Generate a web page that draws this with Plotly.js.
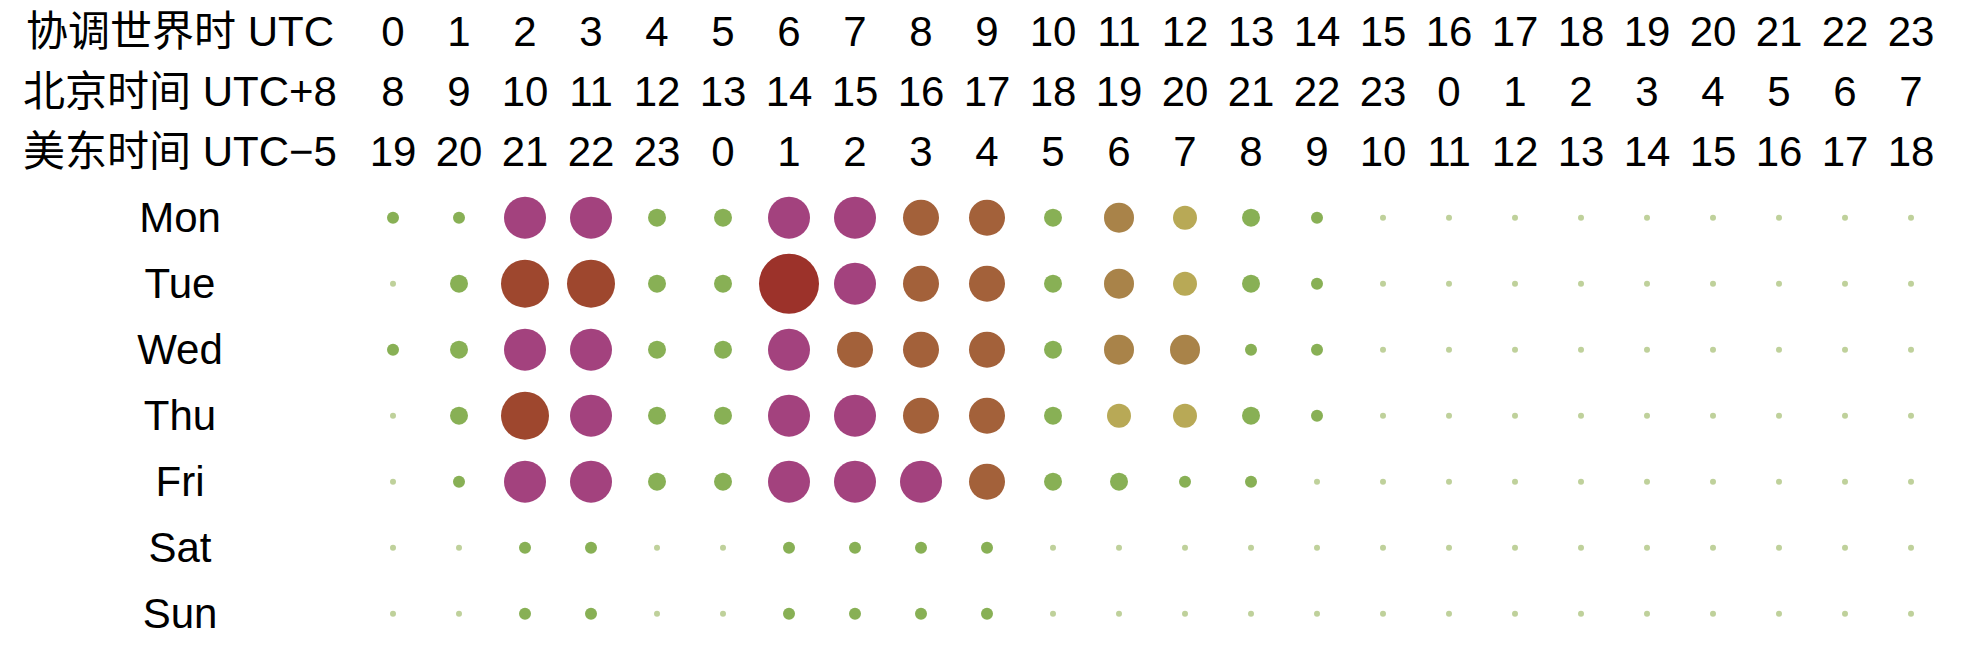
<!DOCTYPE html>
<html>
<head>
<meta charset="utf-8">
<script src="https://cdn.plot.ly/plotly-3.0.1.min.js"></script>
<style>
  html, body { margin: 0; padding: 0; background: #ffffff; overflow: hidden; }
  #chart { width: 1988px; height: 661px; }
</style>
</head>
<body>
<div id="chart"></div>
<script>
// ---------------- data ----------------
const hoursUTC = [0,1,2,3,4,5,6,7,8,9,10,11,12,13,14,15,16,17,18,19,20,21,22,23];
const rowTitles = ["协调世界时 UTC", "北京时间 UTC+8", "美东时间 UTC\u22125"];
const labelsUTC = ["0","1","2","3","4","5","6","7","8","9","10","11","12","13","14","15","16","17","18","19","20","21","22","23"];
const labelsBeijing = ["8","9","10","11","12","13","14","15","16","17","18","19","20","21","22","23","0","1","2","3","4","5","6","7"];
const labelsEastern = ["19","20","21","22","23","0","1","2","3","4","5","6","7","8","9","10","11","12","13","14","15","16","17","18"];
const days = ["Mon","Tue","Wed","Thu","Fri","Sat","Sun"];

// activity level per hour (UTC), one array per weekday
const mon = [2,2,7,7,3,3,7,7,6,6,3,5,4,3,2,1,1,1,1,1,1,1,1,1];
const tue = [1,3,8,8,3,3,10,7,6,6,3,5,4,3,2,1,1,1,1,1,1,1,1,1];
const wed = [2,3,7,7,3,3,7,6,6,6,3,5,5,2,2,1,1,1,1,1,1,1,1,1];
const thu = [1,3,8,7,3,3,7,7,6,6,3,4,4,3,2,1,1,1,1,1,1,1,1,1];
const fri = [1,2,7,7,3,3,7,7,7,6,3,3,2,2,1,1,1,1,1,1,1,1,1,1];
const sat = [1,1,2,2,1,1,2,2,2,2,1,1,1,1,1,1,1,1,1,1,1,1,1,1];
const sun = [1,1,2,2,1,1,2,2,2,2,1,1,1,1,1,1,1,1,1,1,1,1,1,1];
const levels = [mon, tue, wed, thu, fri, sat, sun];

// ---------------- styles ----------------
const levelColors = {
  1: "#bfd19b",
  2: "#88b055",
  3: "#88b055",
  4: "#b8a956",
  5: "#a98349",
  6: "#a3613a",
  7: "#a3427e",
  8: "#9e472e",
  9: "#9d3a2b",
  10: "#9c322a"
};
const pxPerLevel = 6;
const FONT = '"Liberation Sans", Arial, "Noto Sans CJK SC", sans-serif';
const FS = 42;

const W = 1988, H = 661;
const unitPx = 66;            // px per hour column and per day row
const firstColPx = 393;       // pixel x of hour 0
const firstRowPx = 217.7;     // pixel y of Mon
const labelCenterPx = 180;    // pixel x of left labels
const headerRowPx = [31, 91, 151];
const textShiftPx = 4;        // optical correction for text baseline

const xMin = -firstColPx / unitPx;
const xMax = xMin + W / unitPx;
const yTop = -firstRowPx / unitPx;
const yBottom = yTop + H / unitPx;
const labelX = xMin + labelCenterPx / unitPx;
const tShift = textShiftPx / unitPx;
const headerY = headerRowPx.map(p => yTop + (p + textShiftPx) / unitPx);

// ---------------- traces ----------------
const bx = [], by = [], bs = [], bc = [];
levels.forEach((row, d) => {
  row.forEach((lv, h) => {
    bx.push(hoursUTC[h]);
    by.push(d);
    bs.push(lv * pxPerLevel);
    bc.push(levelColors[lv]);
  });
});

const traces = [];
traces.push({
  type: "scatter",
  mode: "markers",
  x: bx, y: by,
  marker: { size: bs, color: bc, sizemode: "diameter", line: { width: 0 }, opacity: 1 },
  hoverinfo: "skip",
  cliponaxis: false
});

const headerLabelSets = [labelsUTC, labelsBeijing, labelsEastern];
headerLabelSets.forEach((labels, i) => {
  traces.push({
    type: "scatter",
    mode: "text",
    x: hoursUTC,
    y: hoursUTC.map(() => headerY[i]),
    text: labels,
    textposition: "middle center",
    textfont: { family: FONT, size: FS, color: "#000000" },
    hoverinfo: "skip",
    cliponaxis: false
  });
});

traces.push({
  type: "scatter",
  mode: "text",
  x: rowTitles.map(() => labelX),
  y: headerY,
  text: rowTitles,
  textposition: "middle center",
  textfont: { family: FONT, size: FS, color: "#000000" },
  hoverinfo: "skip",
  cliponaxis: false
});

traces.push({
  type: "scatter",
  mode: "text",
  x: days.map(() => labelX),
  y: days.map((_, i) => i + tShift),
  text: days,
  textposition: "middle center",
  textfont: { family: FONT, size: FS, color: "#000000" },
  hoverinfo: "skip",
  cliponaxis: false
});

const layout = {
  width: W,
  height: H,
  margin: { l: 0, r: 0, t: 0, b: 0, pad: 0 },
  paper_bgcolor: "#ffffff",
  plot_bgcolor: "#ffffff",
  showlegend: false,
  xaxis: { range: [xMin, xMax], visible: false, fixedrange: true },
  yaxis: { range: [yBottom, yTop], visible: false, fixedrange: true },
  font: { family: FONT }
};

Plotly.newPlot("chart", traces, layout, { staticPlot: true, displayModeBar: false });
</script>
</body>
</html>
